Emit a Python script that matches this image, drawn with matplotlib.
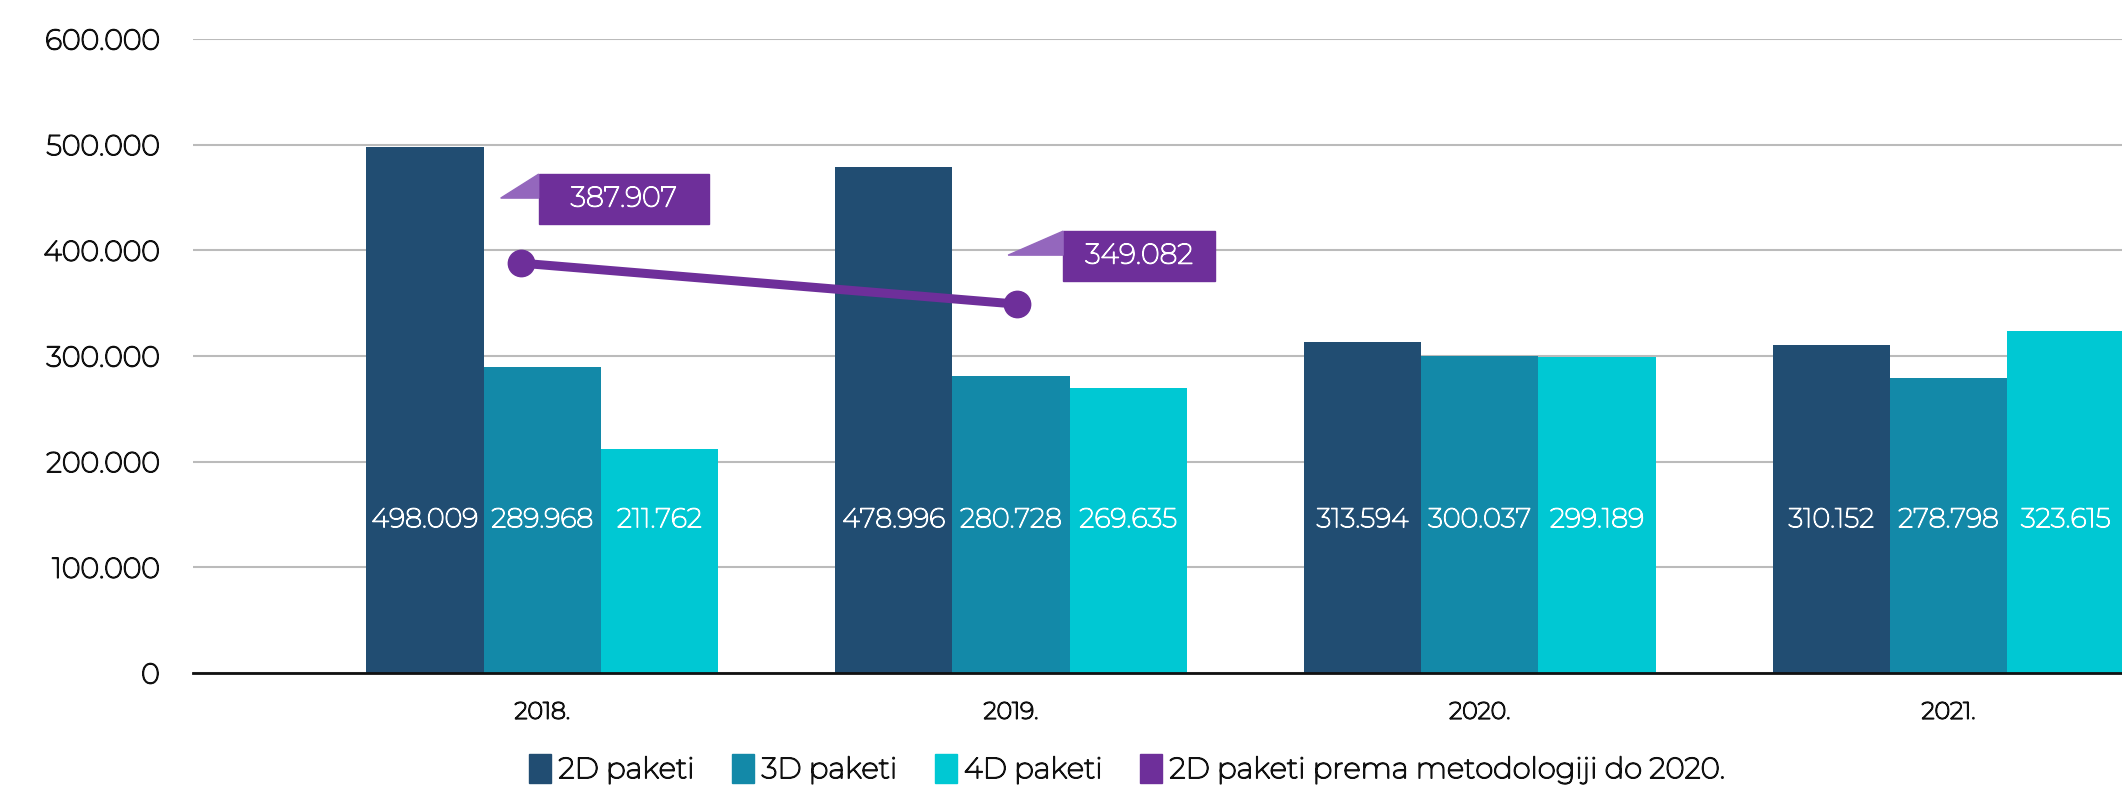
import matplotlib
matplotlib.use("Agg")
import matplotlib.pyplot as plt
import matplotlib.patheffects as pe
from matplotlib.patches import Rectangle, Polygon, Patch
from matplotlib.transforms import Affine2D
import numpy as np

# podaci
godine = ["2018.", "2019.", "2020.", "2021."]
paketi_2d = [498009, 478996, 313594, 310152]
paketi_3d = [289968, 280728, 300037, 278798]
paketi_4d = [211762, 269635, 299189, 323615]
stara_metodologija = [387907, 349082]  # 2018., 2019.

BOJA_2D = "#214d72"
BOJA_3D = "#1389a8"
BOJA_4D = "#00c8d3"
BOJA_LJ = "#6e2f9a"
BOJA_TROKUT = "#9467bd"
BOJA_TXT = "#111111"

plt.rcParams['font.family'] = ['Montserrat', 'DejaVu Sans']


def fmt(v):
    return f"{v:,}".replace(",", ".")


def deblje(boja, lw=1.1):
    # instalirani Montserrat je tanak, pa ga malo podebljamo
    return [pe.withStroke(linewidth=lw, foreground=boja)]


fig = plt.figure(figsize=(21.22, 7.89), dpi=100)
ax = fig.add_axes([193 / 2122, 116 / 789, 1 - 193 / 2122, (673 - 39) / 789])
ax.set_xlim(-0.745, 3.37)
ax.set_ylim(0, 600000)

x = np.arange(len(godine))
w = 0.25
serije = [(paketi_2d, BOJA_2D, "2D paketi"),
          (paketi_3d, BOJA_3D, "3D paketi"),
          (paketi_4d, BOJA_4D, "4D paketi")]
for i, (vals, boja, naziv) in enumerate(serije):
    pos = x + (i - 1) * w
    ax.bar(pos, vals, width=w, color=boja, label=naziv, zorder=2)
    for xp, v in zip(pos, vals):
        ax.text(xp, 145000, fmt(v), color="white", ha="center", va="center",
                fontsize=19.5, zorder=3, path_effects=deblje("white", 0.9))

# linija - 2D paketi prema staroj metodologiji
x_lin = x[:2] + np.array([-0.046, 0.013])
ax.plot(x_lin, stara_metodologija, color=BOJA_LJ, lw=6.5, marker="o",
        markersize=19, label="2D paketi prema metodologiji do 2020.", zorder=4)

# oblacici s vrijednostima
oblik = [  # (box lijevo, desno, dolje, gore, trokut vrh x) u pikselima od tocke
    (18, 188, 39, 89, -20),
    (46, 198, 23, 73, -9),
]
for xp, v, (l, r, b, t, tx) in zip(x_lin, stara_metodologija, oblik):
    base = ax.transData.transform((xp, v))
    tr = Affine2D().translate(base[0], base[1])
    ax.add_patch(Rectangle((l, b), r - l, t - b, transform=tr, color=BOJA_LJ,
                           zorder=5, clip_on=False))
    ax.add_patch(Polygon([(tx, t - 24), (l, t), (l, t - 24)], closed=True,
                         transform=tr, color=BOJA_TROKUT, zorder=5, clip_on=False))
    ax.text((l + r) / 2, (b + t) / 2, fmt(v), transform=tr, color="white",
            ha="center", va="center", fontsize=20.5, zorder=6,
            path_effects=deblje("white", 0.9))

ax.set_yticks(np.arange(0, 600001, 100000))
ax.set_yticklabels([fmt(v) for v in range(0, 600001, 100000)], fontsize=20.5, color=BOJA_TXT)
ax.set_xticks(x)
ax.set_xticklabels(godine, fontsize=17, color=BOJA_TXT)
for lbl in ax.get_xticklabels() + ax.get_yticklabels():
    lbl.set_path_effects(deblje(BOJA_TXT))
ax.tick_params(axis="both", length=0)
ax.tick_params(axis="y", pad=24)
ax.tick_params(axis="x", pad=20)
ax.grid(axis="y", color="#bbbbbb", lw=1.5, zorder=0)
ax.set_axisbelow(True)
for s in ["top", "right", "left"]:
    ax.spines[s].set_visible(False)
ax.spines["bottom"].set_color(BOJA_TXT)
ax.spines["bottom"].set_linewidth(2)
ax.spines["bottom"].set_zorder(3)

# legenda
rucke = [Patch(color=BOJA_2D, label="2D paketi"),
         Patch(color=BOJA_3D, label="3D paketi"),
         Patch(color=BOJA_4D, label="4D paketi"),
         Patch(color=BOJA_LJ, label="2D paketi prema metodologiji do 2020.")]
leg = fig.legend(handles=rucke, loc="center", bbox_to_anchor=(1127 / 2122, 20 / 789),
                 ncol=4, frameon=False, fontsize=21, handlelength=0.75, handleheight=1.15,
                 handletextpad=0.25, columnspacing=1.3, borderpad=0)
for t in leg.get_texts():
    t.set_color(BOJA_TXT)
    t.set_path_effects(deblje(BOJA_TXT))

fig.savefig("out.png", dpi=100)
